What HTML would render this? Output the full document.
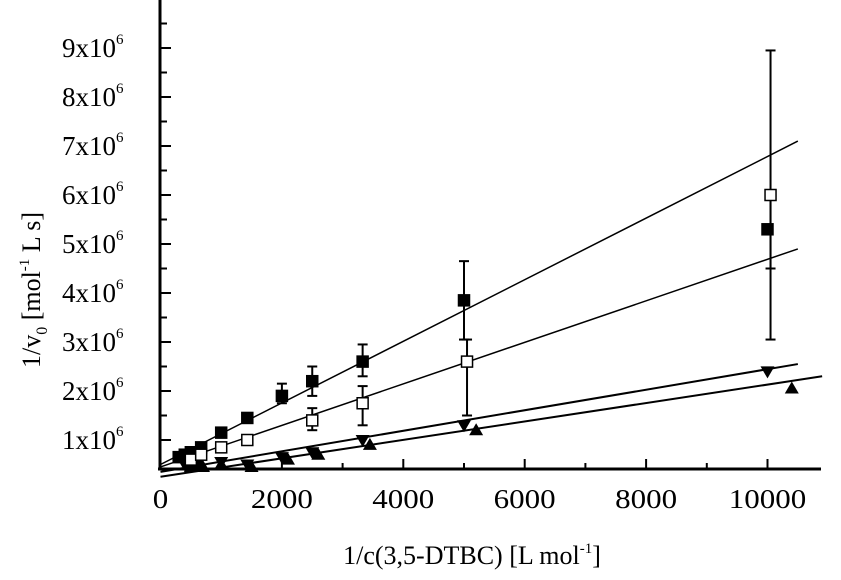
<!DOCTYPE html>
<html><head><meta charset="utf-8"><style>
html,body{margin:0;padding:0;background:#fff;}
svg{display:block;}
text{font-family:"Liberation Serif",serif;fill:#000;}
</style></head><body>
<svg id="s" width="841" height="580" xmlns="http://www.w3.org/2000/svg"></svg>
<script>
var s=document.getElementById('s'),h='';
function X(v){return 160.5+v*0.0607;}
function Y(v){return 489-v*49;}
function L(x1,y1,x2,y2,w){h+='<line x1="'+x1+'" y1="'+y1+'" x2="'+x2+'" y2="'+y2+'" stroke="#000" stroke-width="'+(w||1.5)+'"/>';}
L(160,0,160,470,3);L(158,469,821,469,3);
for(var i=1;i<=9.5;i+=0.5){var y=Y(i);L(160,y,i%1?167:171,y,2);if(i%1==0)h+='<text x="62" y="'+(y+9)+'" font-size="27">'+i+'x10<tspan font-size="15" dy="-13">6</tspan></text>';}
for(var v=1000;v<=10800;v+=1000){var x=X(v);L(x,469,x,v%2000?463:459,2);}
for(var v=0;v<=10000;v+=2000){h+='<text x="'+X(v)+'" y="508" font-size="27" text-anchor="middle" textLength="'+(String(v).length*15.5)+'" lengthAdjust="spacingAndGlyphs">'+v+'</text>';}
h+='<text x="472" y="564" font-size="26" text-anchor="middle">1/c(3,5-DTBC) [L mol<tspan font-size="15" dy="-11">-1</tspan><tspan dy="11">]</tspan></text>';
h+='<text transform="translate(40,290) rotate(-90)" font-size="26" text-anchor="middle">1/v<tspan font-size="16" dy="7">0</tspan><tspan dy="-7"> [mol</tspan><tspan font-size="15" dy="-11">-1</tspan><tspan dy="11"> L s]</tspan></text>';
L(X(0),Y(0.5),X(10500),Y(7.1),1.5);
L(X(0),Y(0.45),X(10500),Y(4.9),1.5);
L(X(0),Y(0.35),X(10500),Y(2.55),2);
L(X(0),Y(0.25),X(10900),Y(2.3),2);
function eb(x,lo,hi){L(X(x),Y(lo),X(x),Y(hi),2);L(X(x)-5,Y(lo),X(x)+5,Y(lo),2);L(X(x)-5,Y(hi),X(x)+5,Y(hi),2);}
function sq(x,y,f){h+='<rect x="'+(X(x)-5.5)+'" y="'+(Y(y)-5.5)+'" width="11" height="11" fill="'+(f?'#000':'#fff')+'" stroke="#000" stroke-width="1.5"/>';}
function tri(x,y,up){var cx=X(x),cy=Y(y);h+='<polygon points="'+(up?(cx-7)+','+(cy+5)+' '+(cx+7)+','+(cy+5)+' '+cx+','+(cy-7):(cx-7)+','+(cy-5)+' '+(cx+7)+','+(cy-5)+' '+cx+','+(cy+7))+'" fill="#000"/>';}
eb(2000,1.75,2.15);eb(2500,1.9,2.5);eb(3330,2.3,2.95);eb(5000,3.05,4.65);eb(10050,4.5,6.1);
eb(2500,1.2,1.65);eb(3330,1.3,2.1);eb(5050,1.5,3.05);eb(10050,3.05,8.95);
var A=[[300,0.65],[400,0.7],[500,0.75],[670,0.85],[1000,1.15],[1430,1.45],[2000,1.9],[2500,2.2],[3330,2.6],[5000,3.85],[10000,5.3]];
var B=[[500,0.6],[670,0.7],[1000,0.85],[1430,1.0],[2500,1.4],[3330,1.75],[5050,2.6],[10050,6.0]];
var C=[[400,0.5],[600,0.5],[1000,0.55],[1430,0.5],[2000,0.65],[2500,0.75],[3330,1.0],[5000,1.3],[10000,2.4]];
var D=[[500,0.45],[700,0.45],[1000,0.5],[1500,0.45],[2100,0.6],[2600,0.7],[3450,0.9],[5200,1.2],[10400,2.05]];
C.forEach(function(p){tri(p[0],p[1],0);});
D.forEach(function(p){tri(p[0],p[1],1);});
A.forEach(function(p){sq(p[0],p[1],1);});
B.forEach(function(p){sq(p[0],p[1],0);});
s.innerHTML=h;
</script>
</body></html>
